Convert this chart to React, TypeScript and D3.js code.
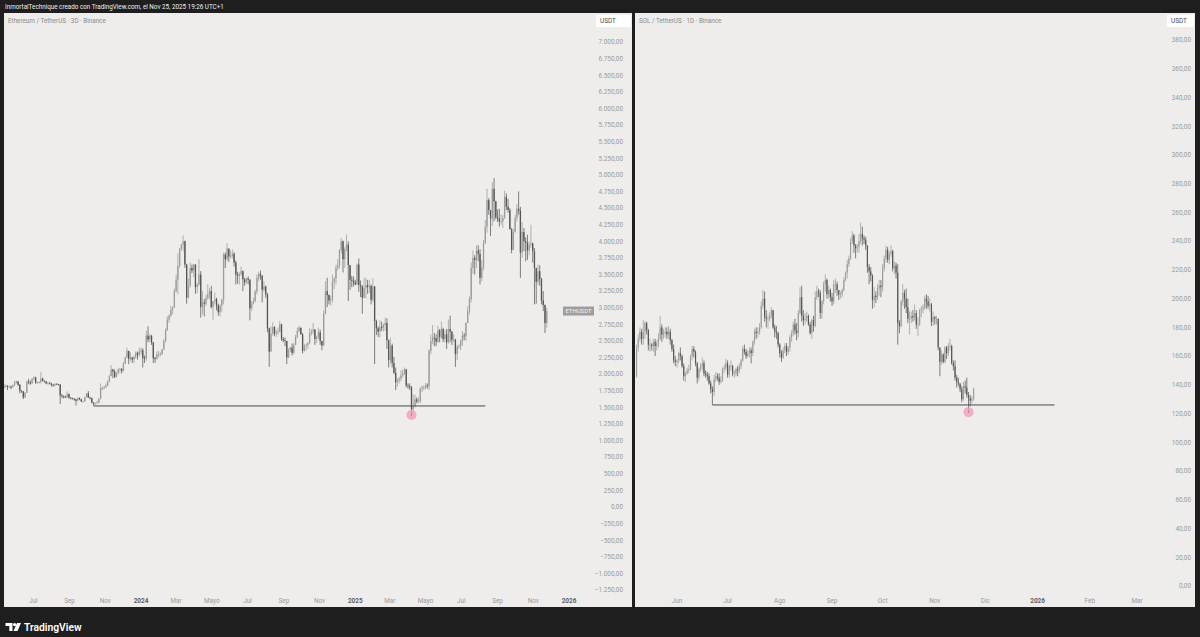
import React from "react";
import * as d3 from "d3";

// ---------------- DATA ----------------
// Ethereum / TetherUS, 3D candles starting 2023-05-12 (open of first candle below)
const ethStart = "2023-05-12";
const ethFirstOpen = 1800;
const ethClose = [
  1820, 1825, 1805, 1815, 1800, 1830, 1870,
  1890, 1840, 1750, 1740, 1650, 1720, 1890, 1875, 1860, 1930,
  1950, 1870, 1880, 1880, 1935, 1900, 1890, 1860, 1870, 1860,
  1840, 1830, 1855, 1850, 1845, 1680, 1670, 1660, 1650, 1700, 1645,
  1635, 1630, 1620, 1600, 1640, 1620, 1590, 1590, 1650, 1710,
  1650, 1640, 1570, 1555, 1560, 1570, 1630, 1790, 1790, 1800,
  1830, 1890, 1970, 2070, 2040, 1960, 2020, 2070, 2080, 2050,
  2160, 2250, 2350, 2230, 2250, 2220, 2260, 2320, 2290, 2340,
  2360, 2240, 2230, 2580, 2520, 2580, 2480, 2240, 2230, 2300, 2300,
  2300, 2370, 2500, 2660, 2820, 2880, 2970, 3000, 3250,
  3420, 3630, 3890, 3950, 4000, 3650, 3150, 3330, 3600, 3560, 3650,
  3310, 3350, 3500, 3010, 3080, 3060, 3150, 3200, 3250, 3010,
  3100, 3130, 3030, 2930, 3030, 3120, 3800, 3730, 3890, 3770,
  3780, 3810, 3680, 3500, 3480, 3510, 3550, 3430, 3380, 3440,
  3420, 2990, 3060, 3100, 3240, 3450, 3510, 3480, 3270, 3320,
  3200, 2690, 2340, 2610, 2710, 2610, 2630, 2640, 2750, 2530, 2510,
  2500, 2250, 2360, 2400, 2320, 2440, 2560, 2650, 2700, 2600,
  2350, 2430, 2440, 2470, 2620, 2640, 2670, 2530, 2550, 2630,
  2500, 2430, 2910, 3250, 3190, 3110, 3130, 3390, 3440, 3600,
  3640, 3870, 4000, 3730, 3880, 3950, 3640, 3420, 3410, 3380,
  3350, 3650, 3340, 3320, 3150, 3300, 3340, 3310, 3330, 3120, 3320,
  2800, 2690, 2640, 2710, 2700, 2740, 2770, 2510, 2210,
  2430, 2170, 2020, 1880, 1910, 1930, 1980, 2010, 2070, 1830,
  1820, 1800, 1470, 1520, 1620, 1590, 1590, 1780, 1800, 1800,
  1830, 1820, 2350, 2500, 2550, 2540, 2490, 2660, 2560, 2680, 2530,
  2600, 2480, 2680, 2640, 2520, 2520, 2300, 2410, 2420, 2500,
  2580, 2570, 2770, 2950, 3130, 3600, 3750, 3720, 3860, 3810,
  3450, 3610, 3980, 4220, 4620, 4470, 4340, 4790, 4600, 4360,
  4340, 4300, 4300, 4350, 4670, 4520, 4470, 4180, 3870, 4140,
  4350, 4490, 4460, 3830, 4140, 4000, 3980, 3860, 3950, 3970, 3850,
  3600, 3390, 3550, 3430, 3110, 3040, 2770, 2950,
];
const ethHigh = [
  1850, 1845, 1830, 1830, 1825, 1845, 1900,
  1905, 1895, 1850, 1760, 1745, 1730, 1900, 1930, 1905, 1940,
  1970, 1960, 1890, 1890, 2030, 1945, 1905, 1895, 1880, 1880,
  1870, 1850, 1860, 1860, 1855, 1845, 1700, 1680, 1675, 1740, 1710,
  1655, 1645, 1640, 1630, 1650, 1650, 1630, 1600, 1660, 1715,
  1745, 1660, 1645, 1580, 1575, 1600, 1640, 1860, 1810, 1820,
  1860, 1905, 1990, 2135, 2080, 2070, 2030, 2090, 2100, 2090,
  2180, 2260, 2400, 2350, 2330, 2260, 2280, 2340, 2340, 2400,
  2400, 2390, 2280, 2650, 2720, 2600, 2590, 2480, 2260, 2340, 2350,
  2330, 2380, 2530, 2690, 2870, 2900, 3030, 3020, 3290,
  3500, 3820, 3900, 3960, 4090, 4010, 3660, 3440, 3680, 3650, 3660,
  3650, 3370, 3730, 3550, 3250, 3130, 3200, 3350, 3290, 3330,
  3100, 3230, 3150, 3060, 3050, 3140, 3830, 3830, 3970, 3890,
  3860, 3880, 3840, 3710, 3540, 3530, 3620, 3560, 3450, 3450,
  3470, 3430, 3100, 3150, 3270, 3500, 3540, 3560, 3490, 3400,
  3330, 3220, 2700, 2720, 2780, 2720, 2670, 2700, 2800, 2760, 2560,
  2550, 2500, 2390, 2410, 2460, 2470, 2590, 2700, 2730, 2690,
  2620, 2450, 2460, 2480, 2690, 2680, 2770, 2680, 2580, 2700,
  2670, 2500, 2960, 3400, 3450, 3200, 3180, 3500, 3460, 3650,
  3730, 3880, 4050, 4010, 3910, 4100, 4000, 3550, 3480, 3470,
  3420, 3670, 3740, 3410, 3340, 3450, 3450, 3420, 3420, 3350, 3440,
  3300, 2820, 2720, 2810, 2790, 2760, 2850, 2840, 2520,
  2550, 2460, 2260, 2100, 1940, 1960, 2060, 2070, 2100, 2080,
  1860, 1860, 1820, 1690, 1690, 1650, 1650, 1800, 1830, 1830,
  1870, 1860, 2380, 2600, 2740, 2620, 2600, 2730, 2680, 2790, 2700,
  2660, 2680, 2820, 2880, 2650, 2600, 2530, 2440, 2450, 2520,
  2650, 2620, 2780, 3020, 3170, 3680, 3860, 3790, 3940, 3940,
  3880, 3720, 4020, 4320, 4790, 4650, 4450, 4890, 4950, 4610,
  4480, 4490, 4400, 4400, 4760, 4720, 4640, 4500, 4200, 4190,
  4400, 4560, 4750, 4520, 4290, 4200, 4060, 4100, 4000, 4250, 3980,
  3900, 3550, 3650, 3640, 3450, 3250, 3050, 3000,
];
const ethLow = [
  1780, 1795, 1760, 1795, 1775, 1800, 1820,
  1855, 1820, 1710, 1720, 1625, 1640, 1715, 1850, 1840, 1855,
  1905, 1855, 1855, 1860, 1860, 1890, 1875, 1850, 1840, 1845,
  1815, 1810, 1820, 1840, 1830, 1550, 1640, 1630, 1640, 1645, 1630,
  1620, 1620, 1600, 1530, 1595, 1610, 1580, 1575, 1585, 1650,
  1640, 1620, 1560, 1521, 1540, 1555, 1565, 1620, 1760, 1770,
  1795, 1820, 1880, 1970, 1940, 1940, 1950, 1990, 2020, 2010,
  2040, 2150, 2240, 2150, 2200, 2170, 2170, 2230, 2220, 2260,
  2290, 2100, 2170, 2200, 2480, 2480, 2440, 2170, 2170, 2220, 2250,
  2270, 2290, 2360, 2480, 2650, 2770, 2860, 2900, 3000,
  3230, 3200, 3600, 3860, 3850, 3600, 3060, 3140, 3300, 3520, 3460,
  3210, 3220, 3330, 2850, 2900, 2870, 3030, 3120, 3130, 2990,
  2820, 3050, 2960, 2880, 2870, 2940, 3050, 3600, 3700, 3690,
  3740, 3740, 3620, 3350, 3360, 3350, 3480, 3250, 3330, 3360,
  3350, 2810, 2950, 3050, 3080, 3200, 3400, 3420, 3080, 3240,
  3150, 2630, 2110, 2330, 2580, 2570, 2560, 2590, 2630, 2500, 2480,
  2420, 2150, 2240, 2330, 2280, 2300, 2440, 2540, 2630, 2590,
  2310, 2340, 2350, 2380, 2450, 2580, 2600, 2440, 2470, 2530,
  2440, 2360, 2430, 2900, 3010, 3050, 3030, 3080, 3280, 3350,
  3560, 3590, 3820, 3530, 3600, 3850, 3100, 3270, 3310, 3320,
  3340, 3350, 3240, 3160, 2910, 3150, 3140, 3210, 3220, 3050, 3090,
  2150, 2590, 2560, 2550, 2650, 2640, 2650, 2380, 2100,
  2150, 2100, 2000, 1760, 1810, 1860, 1890, 1950, 1990, 1800,
  1780, 1760, 1385, 1420, 1500, 1560, 1570, 1560, 1730, 1760,
  1770, 1780, 1760, 2300, 2450, 2420, 2420, 2470, 2480, 2530, 2480,
  2480, 2380, 2460, 2480, 2440, 2480, 2110, 2210, 2380, 2360,
  2430, 2510, 2500, 2770, 2900, 3080, 3510, 3500, 3600, 3700,
  3350, 3400, 3560, 3960, 4130, 4400, 4080, 4230, 4300, 4330,
  4290, 4220, 4250, 4200, 4340, 4470, 4430, 4180, 3820, 3880,
  4130, 4300, 4400, 3450, 3750, 3850, 3700, 3720, 3790, 3900, 3680,
  3050, 3060, 3350, 3330, 3050, 2950, 2620, 2700,
];

// SOL / TetherUS, 1D candles starting 2025-05-08
const solStart = "2025-05-08";
const solFirstOpen = 146;
const solClose = [
  166,172,177,172,177,183,178,168,168,167,170,167,169,172,180,175,176,177,175,177,171,165,157,156,
  157,162,160,153,146,148,150,151,160,165,163,155,145,151,153,155,148,147,146,141,137,135,144,146,145,142,143,151,152,155,
  147,153,153,148,148,151,150,153,157,165,163,160,162,164,162,170,177,176,177,180,195,200,187,186,186,188,192,180,177,176,168,
  162,159,164,167,163,166,173,176,182,178,176,190,201,188,185,186,188,182,176,185,181,201,205,204,190,198,210,213,203,206,201,
  198,210,210,206,203,203,206,213,218,224,228,240,244,237,235,236,240,245,242,241,237,222,219,216,199,202,201,207,209,208,
  221,228,234,227,231,233,221,223,218,183,181,198,204,200,194,186,186,188,187,190,182,182,192,193,194,200,198,195,196,184,187,
  186,186,166,156,161,156,166,162,167,167,155,153,145,142,141,137,130,139,138,133,131,129,130,137,
];
const solHigh = [
  168,175,180,179,185,184,184,179,172,169,172,172,171,176,188,182,179,180,180,181,179,172,168,160,
  158,163,166,161,155,149,152,154,161,167,167,164,156,152,155,159,157,150,149,148,143,139,147,149,148,148,146,152,154,158,
  157,154,157,154,150,152,153,155,158,167,168,165,164,166,166,171,179,180,180,183,198,206,205,192,189,191,194,192,182,181,177,
  169,164,166,169,169,167,175,178,184,186,183,192,208,209,192,190,191,189,184,186,188,205,209,207,206,199,212,217,214,209,207,
  204,213,214,212,206,205,207,215,219,227,230,242,247,245,238,238,245,253,250,244,243,237,224,222,217,208,205,210,213,213,
  224,230,237,236,233,237,234,226,225,224,185,199,210,206,207,200,191,191,192,196,192,187,193,195,196,202,203,202,200,197,191,
  188,188,186,166,164,162,167,167,169,172,168,157,157,147,145,141,139,142,143,145,135,133,132,138,
];
const solLow = [
  145,163,170,168,168,172,175,164,163,164,163,160,164,166,171,170,172,173,172,172,168,163,155,153,
  152,155,157,152,143,142,147,148,150,157,159,153,141,143,149,150,146,145,143,140,134,126,132,142,143,140,141,142,148,150,
  145,145,150,146,145,146,146,148,151,156,161,158,159,159,155,160,168,172,173,175,179,193,184,180,179,184,186,179,173,172,166,
  159,156,158,162,160,161,163,170,174,175,171,173,189,184,181,182,184,181,175,172,177,180,199,201,186,186,196,205,200,200,198,
  195,196,204,202,199,200,201,205,212,214,222,227,238,232,228,232,232,238,237,238,234,218,210,212,193,194,197,199,202,201,
  205,219,225,225,224,229,219,217,214,168,176,180,195,193,190,183,175,183,184,185,179,174,181,187,190,192,193,193,191,181,181,
  182,182,164,146,154,155,155,158,160,164,154,150,143,138,139,135,128,129,134,131,121,125,127,129,
];

// Axis ticks
const ethPriceTicks = [7000, 6750, 6500, 6250, 6000, 5750, 5500, 5250, 5000, 4750, 4500, 4250, 4000, 3750, 3500, 3250, 3000, 2750, 2500, 2250, 2000, 1750, 1500, 1250, 1000, 750, 500, 250, 0, -250, -500, -750, -1000, -1250];
const solPriceTicks = [380, 360, 340, 320, 300, 280, 260, 240, 220, 200, 180, 160, 140, 120, 100, 80, 60, 40, 20, 0];
const ethTimeTicks: [string, string, boolean][] = [
  ["2023-07-01", "Jul", false], ["2023-09-01", "Sep", false], ["2023-11-01", "Nov", false],
  ["2024-01-01", "2024", true], ["2024-03-01", "Mar", false], ["2024-05-01", "Mayo", false],
  ["2024-07-01", "Jul", false], ["2024-09-01", "Sep", false], ["2024-11-01", "Nov", false],
  ["2025-01-01", "2025", true], ["2025-03-01", "Mar", false], ["2025-05-01", "Mayo", false],
  ["2025-07-01", "Jul", false], ["2025-09-01", "Sep", false], ["2025-11-01", "Nov", false],
  ["2026-01-01", "2026", true],
];
const solTimeTicks: [string, string, boolean][] = [
  ["2025-06-01", "Jun", false], ["2025-07-01", "Jul", false], ["2025-08-01", "Ago", false],
  ["2025-09-01", "Sep", false], ["2025-10-01", "Oct", false], ["2025-11-01", "Nov", false],
  ["2025-12-01", "Dic", false], ["2026-01-01", "2026", true], ["2026-02-01", "Feb", false],
  ["2026-03-01", "Mar", false],
];

// Drawings
const ethSupport = { from: "2023-10-12", to: "2025-08-11", price: 1521 };
const solSupport = { from: "2025-06-22", to: "2026-01-11", price: 126 };
const ethMarker = { date: "2025-04-07", price: 1385 };
const solMarker = { date: "2025-11-21", price: 121 };

const headerText = "InmortalTechnique creado con TradingView.com, el Nov 25, 2025 19:26 UTC+1";
const ethTitle = "Ethereum / TetherUS · 3D · Binance";
const solTitle = "SOL / TetherUS · 1D · Binance";

// ---------------- HELPERS ----------------
const FONT = "Roboto, 'Noto Sans', 'DejaVu Sans', sans-serif";
const esLocale = d3.formatLocale({ decimal: ",", thousands: ".", grouping: [3], currency: ["", ""], minus: "\u2212" });
const fmtPrice = esLocale.format(",.2f");

type Candle = { date: Date; open: number; high: number; low: number; close: number };

function buildCandles(start: string, stepDays: number, firstOpen: number, close: number[], high: number[], low: number[]): Candle[] {
  const n = Math.min(close.length, high.length, low.length);
  const s = new Date(start + "T00:00:00Z");
  const out: Candle[] = [];
  for (let i = 0; i < n; i++) {
    const open = i === 0 ? firstOpen : close[i - 1];
    const c = close[i];
    out.push({
      date: d3.utcDay.offset(s, i * stepDays),
      open,
      close: c,
      high: Math.max(high[i], open, c),
      low: Math.min(low[i], open, c),
    });
  }
  return out;
}

const UP = "#9c9c9c";
const DOWN = "#555555";
const BG = "#1e1e1e";
const PANEL = "#eeedeb";

function Candles({ data, x, y, w }: { data: Candle[]; x: (d: Date) => number; y: (v: number) => number; w: number }) {
  return (
    <g>
      {data.map((d, i) => {
        const cx = x(d.date);
        const up = d.close >= d.open;
        const col = up ? UP : DOWN;
        const yt = y(Math.max(d.open, d.close));
        const yb = y(Math.min(d.open, d.close));
        return (
          <g key={i}>
            <line x1={cx} x2={cx} y1={y(d.high)} y2={y(d.low)} stroke={col} strokeWidth={0.75} />
            <rect x={cx - w / 2} y={yt} width={w} height={Math.max(0.8, yb - yt)} fill={col} />
          </g>
        );
      })}
    </g>
  );
}

function Panel(props: {
  x0: number; x1: number; y0: number; y1: number;
  title: string; data: Candle[];
  xs: d3.ScaleTime<number, number>; ys: d3.ScaleLinear<number, number>;
  priceTicks: number[]; timeTicks: [string, string, boolean][];
  labelRight: number; candleW: number;
  support: { from: string; to: string; price: number };
  marker: { date: string; price: number };
  clipId: string;
}) {
  const { x0, x1, y0, y1, title, data, xs, ys, priceTicks, timeTicks, labelRight, candleW, support, marker, clipId } = props;
  const dx = (s: string) => xs(new Date(s + "T00:00:00Z"));
  return (
    <g>
      <defs>
        <clipPath id={clipId}>
          <rect x={x0} y={y0} width={x1 - x0} height={y1 - y0} />
        </clipPath>
      </defs>
      <rect x={x0} y={y0} width={x1 - x0} height={y1 - y0} fill={PANEL} />
      <g clipPath={`url(#${clipId})`}>
        <Candles data={data} x={(d) => xs(d)} y={(v) => ys(v)} w={candleW} />
        <line x1={dx(support.from)} x2={dx(support.to)} y1={ys(support.price)} y2={ys(support.price)} stroke="#4a4a4a" strokeWidth={1} />
        <circle cx={dx(marker.date)} cy={ys(marker.price)} r={5} fill="#f2a0bd" fillOpacity={0.85} />
        <line x1={dx(marker.date)} x2={dx(marker.date)} y1={ys(marker.price) - 2} y2={ys(marker.price) + 1} stroke="#888" strokeWidth={0.7} />
      </g>
      <text x={x0 + 4} y={y0 + 9.5} fontSize={6.3} fill="#8a8a8a" fontFamily={FONT}>{title}</text>
      {/* price axis */}
      {priceTicks.map((p) => (
        <text key={p} x={labelRight} y={ys(p) + 2.3} fontSize={6.4} fill="#9a9a9a" textAnchor="end" fontFamily={FONT}>
          {fmtPrice(p)}
        </text>
      ))}
      {/* time axis */}
      {timeTicks.map(([d, lab, yr]) => (
        <text key={d} x={dx(d)} y={y1 - 4} fontSize={6.4} fill={yr ? "#5e5e5e" : "#9a9a9a"} fontWeight={yr ? 700 : 400} textAnchor="middle" fontFamily={FONT}>
          {lab}
        </text>
      ))}
    </g>
  );
}

export default function App() {
  const ethData = buildCandles(ethStart, 3, ethFirstOpen, ethClose, ethHigh, ethLow);
  const solData = buildCandles(solStart, 1, solFirstOpen, solClose, solHigh, solLow);

  const ethX = d3.scaleUtc().domain([new Date("2024-01-01T00:00:00Z"), new Date("2026-01-01T00:00:00Z")]).range([141, 569]);
  const ethY = d3.scaleLinear().domain([0, 7000]).range([507, 42]);
  const solX = d3.scaleUtc().domain([new Date("2025-06-01T00:00:00Z"), new Date("2026-01-01T00:00:00Z")]).range([677, 1037.6]);
  const solY = d3.scaleLinear().domain([0, 380]).range([586, 40]);

  const lastEth = ethData[ethData.length - 1];

  return (
    <svg width={1200} height={637} style={{ position: "fixed", left: 0, top: 0, display: "block" }} xmlns="http://www.w3.org/2000/svg">
      <rect x={0} y={0} width={1200} height={637} fill={BG} />
      <text x={5} y={9.3} fontSize={6.3} fill="#f0f0f0" fontFamily={FONT}>{headerText}</text>

      <Panel x0={4} x1={632} y0={13} y1={607} title={ethTitle} data={ethData} xs={ethX} ys={ethY}
        priceTicks={ethPriceTicks} timeTicks={ethTimeTicks} labelRight={623} candleW={1.3}
        support={ethSupport} marker={ethMarker} clipId="clipEth" />
      <Panel x0={635} x1={1195} y0={13} y1={607} title={solTitle} data={solData} xs={solX} ys={solY}
        priceTicks={solPriceTicks} timeTicks={solTimeTicks} labelRight={1191} candleW={1.15}
        support={solSupport} marker={solMarker} clipId="clipSol" />

      {/* currency boxes */}
      <rect x={596} y={15} width={35} height={12} fill="#ffffff" />
      <text x={600} y={23.3} fontSize={6.4} fill="#444" fontFamily={FONT}>USDT</text>
      <rect x={1167} y={15} width={27} height={12} fill="#ffffff" />
      <text x={1171} y={23.3} fontSize={6.4} fill="#444" fontFamily={FONT}>USDT</text>

      {/* symbol label */}
      <rect x={563} y={ethY(lastEth.close) - 4.5} width={31} height={9} fill="#9e9e9e" />
      <text x={578.5} y={ethY(lastEth.close) + 2.2} fontSize={6} fill="#f2f2f2" textAnchor="middle" fontFamily={FONT}>ETHUSDT</text>

      {/* footer logo */}
      <g fill="#ffffff">
        <path d="M5.5,623 H12.5 V631 H9.3 V626 H5.5 Z" />
        <circle cx={14.6} cy={624.6} r={1.6} />
        <path d="M17,623 H21 L17.5,631 H13.5 Z" />
      </g>
      <text x={24} y={631} fontSize={10.3} fontWeight={600} fill="#ffffff" fontFamily={FONT}>TradingView</text>
    </svg>
  );
}
